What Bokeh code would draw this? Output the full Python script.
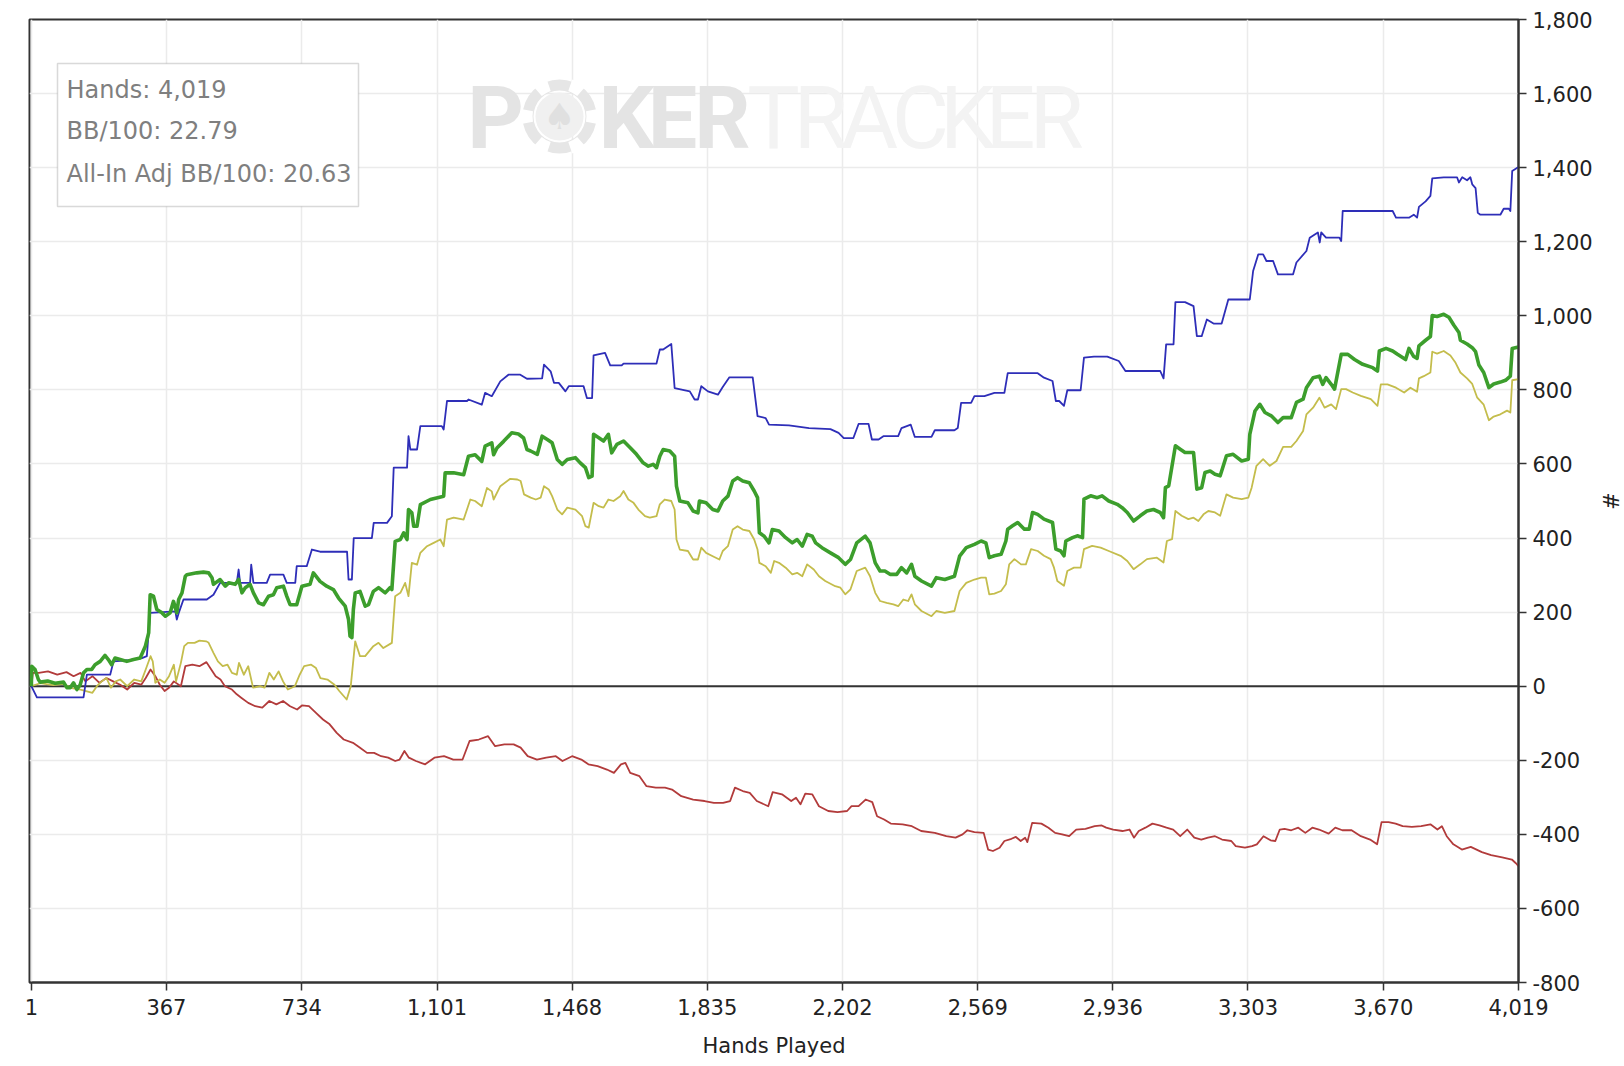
import numpy as np
from bokeh.plotting import figure
from bokeh.models import Range1d, FixedTicker, NumeralTickFormatter, Span, BoxAnnotation, Label
from bokeh.embed import file_html
from bokeh.resources import INLINE
from bokeh.core.properties import value

# ---------------- data ----------------
x_tick_labels = ["1", "367", "734", "1,101", "1,468", "1,835", "2,202", "2,569",
                 "2,936", "3,303", "3,670", "4,019"]
y_ticks = list(range(-800, 1801, 200))

stats_lines = ["Hands: 4,019", "BB/100: 22.79", "All-In Adj BB/100: 20.63"]

blue_hands = [1, 16, 142, 151, 214, 223, 260, 300, 313, 322, 390, 394, 400, 412, 475, 493, 511, 556, 561, 565,
              592, 595, 601, 637, 646, 682, 691, 714, 718, 745, 759, 781, 854, 858, 867, 872, 921, 926, 962, 975,
              980, 1016, 1020, 1025, 1043, 1052, 1110, 1115, 1124, 1178, 1182, 1218, 1227, 1245, 1268, 1290, 1322,
              1340, 1381, 1386, 1404, 1413, 1426, 1444, 1453, 1493, 1502, 1516, 1520, 1551, 1565, 1596, 1601, 1690,
              1699, 1708, 1730, 1739, 1780, 1793, 1802, 1811, 1829, 1856, 1869, 1887, 1950, 1963, 1985, 1994, 2048,
              2102, 2160, 2182, 2196, 2222, 2236, 2263, 2272, 2290, 2303, 2343, 2352, 2377, 2388, 2433, 2442, 2495,
              2504, 2513, 2540, 2549, 2576, 2603, 2630, 2639, 2720, 2737, 2760, 2769, 2778, 2791, 2800, 2836, 2845,
              2872, 2908, 2939, 2957, 3051, 3060, 3067, 3087, 3092, 3118, 3141, 3150, 3163, 3177, 3195, 3217, 3235,
              3293, 3302, 3316, 3329, 3338, 3356, 3369, 3410, 3419, 3446, 3455, 3477, 3482, 3486, 3499, 3535, 3540,
              3544, 3679, 3688, 3723, 3736, 3745, 3750, 3768, 3781, 3786, 3817, 3853, 3858, 3867, 3880, 3889, 3894,
              3903, 3909, 3916, 3970, 3979, 3993, 3997, 4002, 4019]
blue_vals = [0, -30, -30, 31, 31, 67, 70, 76, 81, 198, 202, 180, 200, 234, 234, 247, 279, 279, 315, 279,
             279, 328, 279, 279, 301, 301, 279, 279, 324, 324, 369, 363, 363, 288, 288, 400, 400, 441, 441, 459,
             590, 590, 675, 639, 639, 702, 702, 693, 770, 770, 774, 760, 792, 783, 823, 841, 841,
             830, 831, 868, 850, 819, 819, 796, 810, 810, 778, 778, 893, 900, 866, 866, 871, 871,
             909, 909, 924, 805, 796, 774, 774, 810, 796, 787, 808, 834, 834, 729, 724, 706, 704,
             697, 694, 684, 670, 670, 708, 708, 666, 666, 675, 675, 697, 706, 673, 673, 691, 691,
             697, 765, 765, 783, 783, 792, 792, 845, 845, 833, 824, 770, 770, 757, 799, 799, 887,
             890, 890, 878, 851, 851, 831, 923, 923, 1037, 1037, 1026, 945, 945, 990, 979, 979, 1044,
             1044, 1121, 1166, 1166, 1148, 1148, 1112, 1112, 1144, 1175, 1211, 1225, 1198, 1225, 1211, 1211, 1202,
             1283, 1283, 1265, 1265, 1273, 1265, 1294, 1309, 1324, 1371, 1374, 1374, 1360, 1374, 1366, 1374, 1355,
             1345, 1278, 1273, 1273, 1289, 1289, 1283, 1391, 1402]

green_hands = [1, 2, 11, 20, 25, 45, 65, 88, 97, 106, 115, 124, 133, 142, 151, 164, 173, 187, 200, 209, 218, 227,
               241, 259, 277, 295, 309, 318, 322, 331, 340, 354, 363, 376, 385, 394, 399, 408, 417, 421, 448, 466,
               480, 489, 493, 511, 525, 534, 552, 561, 570, 579, 592, 601, 615, 628, 642, 655, 664, 682, 691, 700,
               718, 732, 754, 763, 781, 799, 817, 831, 849, 858, 862, 867, 871, 876, 889, 903, 912, 925, 939, 957,
               970, 975, 984, 998, 1007, 1016, 1020, 1029, 1034, 1043, 1052, 1079, 1115, 1119, 1142, 1169, 1182,
               1200, 1218, 1227, 1245, 1250, 1259, 1277, 1299, 1317, 1331, 1340, 1350, 1368, 1381, 1395, 1408,
               1422, 1435, 1449, 1471, 1484, 1498, 1507, 1516, 1520, 1534, 1547, 1560, 1569, 1583, 1601, 1619,
               1636, 1654, 1668, 1681, 1690, 1699, 1708, 1726, 1739, 1744, 1753, 1775, 1789, 1802, 1806, 1824,
               1842, 1856, 1869, 1883, 1896, 1909, 1923, 1941, 1954, 1963, 1968, 1981, 1994, 2003, 2021, 2039,
               2057, 2070, 2084, 2097, 2111, 2120, 2137, 2160, 2182, 2200, 2214, 2231, 2254, 2267, 2281, 2294,
               2307, 2321, 2339, 2352, 2366, 2379, 2388, 2406, 2433, 2446, 2469, 2495, 2509, 2527, 2549, 2567,
               2580, 2589, 2603, 2621, 2634, 2639, 2652, 2666, 2684, 2697, 2706, 2720, 2737, 2760, 2769, 2782,
               2791, 2796, 2814, 2827, 2841, 2845, 2863, 2881, 2894, 2912, 2935, 2948, 2962, 2979, 2997, 3015,
               3033, 3051, 3060, 3065, 3074, 3092, 3105, 3118, 3141, 3150, 3163, 3172, 3186, 3199, 3213, 3230,
               3248, 3271, 3289, 3293, 3307, 3320, 3334, 3351, 3369, 3383, 3405, 3419, 3437, 3446, 3464, 3481,
               3490, 3499, 3513, 3522, 3540, 3558, 3576, 3598, 3625, 3638, 3643, 3661, 3679, 3692, 3714, 3723,
               3736, 3745, 3750, 3768, 3781, 3786, 3799, 3817, 3831, 3844, 3858, 3862, 3880, 3894, 3903, 3912,
               3925, 3939, 3952, 3970, 3984, 3997, 4002, 4019]
green_vals = [0, 54, 45, 18, 11, 14, 8, 11, -4, -4, 9, -9, 4, 36, 45, 45, 58, 67, 83, 72, 58, 76,
              72, 67, 72, 76, 108, 144, 247, 243, 207, 198, 189, 198, 229, 198, 234, 252, 297, 301, 306, 308,
              306, 293, 275, 288, 270, 279, 275, 288, 252, 266, 275, 252, 225, 220, 243, 247, 266, 270, 243, 220,
              220, 270, 275, 306, 283, 270, 261, 238, 216, 180, 135, 131, 207, 252, 256, 216, 220, 256, 266, 252,
              266, 261, 391, 396, 414, 396, 477, 468, 432, 432, 490, 504, 513, 576, 576, 571, 621,
              625, 607, 648, 657, 625, 643, 661, 684, 681, 670, 639, 635, 626, 675, 666, 657,
              612, 599, 612, 617, 603, 590, 563, 567, 680, 671, 662, 680, 630, 653, 662, 644,
              626, 603, 594, 599, 590, 621, 639, 635, 621, 540, 500, 495, 473, 468, 500, 495,
              477, 473, 500, 513, 554, 563, 554, 549, 527, 509, 414, 405, 387, 423, 419, 401,
              387, 396, 378, 410, 405, 387, 374, 360, 347, 329, 342, 387, 405, 387, 333, 311,
              311, 302, 302, 320, 306, 329, 297, 284, 270, 293, 288, 297, 351, 374, 383, 392,
              387, 347, 352, 356, 392, 424, 433, 442, 424, 424, 469, 464, 451, 442, 370, 365,
              352, 392, 401, 406, 401, 505, 514, 509, 514, 500, 491, 482, 469, 446, 460, 473,
              477, 469, 455, 536, 541, 649, 640, 631, 631, 532, 536, 577, 581, 572, 568, 622,
              626, 608, 613, 680, 743, 761, 739, 730, 712, 725, 725, 766, 775, 806, 833, 837,
              815, 833, 815, 802, 896, 896, 882, 869, 860, 851, 905, 912, 905, 896, 882, 912,
              890, 885, 919, 934, 944, 1001, 998, 1004, 996, 975, 955, 934, 924, 914, 903, 867,
              847, 806, 816, 821, 826, 837, 912, 916]

yellow_hands = [1, 25, 60, 88, 110, 134, 166, 178, 191, 204, 216, 229, 241, 260, 279, 298, 310, 323, 329, 336,
                348, 361, 373, 386, 392, 405, 414, 424, 442, 455, 474, 480, 493, 505, 518, 531, 543, 556, 562,
                575, 587, 600, 619, 631, 644, 656, 669, 681, 694, 713, 726, 738, 757, 770, 782, 801, 820, 833,
                853, 864, 876, 889, 903, 925, 939, 952, 975, 984, 998, 1011, 1020, 1029, 1043, 1052, 1070, 1088,
                1106, 1115, 1124, 1142, 1169, 1187, 1200, 1218, 1232, 1245, 1250, 1268, 1295, 1314, 1323, 1332,
                1350, 1364, 1377, 1386, 1399, 1408, 1422, 1435, 1449, 1471, 1489, 1498, 1507, 1520, 1534, 1547,
                1560, 1574, 1592, 1601, 1614, 1628, 1641, 1659, 1672, 1690, 1699, 1712, 1730, 1739, 1744, 1753,
                1775, 1789, 1802, 1811, 1824, 1842, 1860, 1869, 1883, 1896, 1909, 1923, 1941, 1954, 1963, 1968,
                1985, 1999, 2008, 2021, 2039, 2057, 2070, 2084, 2097, 2115, 2129, 2146, 2173, 2187, 2200, 2214,
                2231, 2254, 2267, 2281, 2294, 2312, 2330, 2343, 2357, 2370, 2379, 2388, 2406, 2433, 2446, 2469,
                2495, 2509, 2527, 2549, 2567, 2580, 2589, 2603, 2621, 2634, 2643, 2657, 2675, 2688, 2702, 2720,
                2737, 2755, 2764, 2773, 2791, 2800, 2818, 2836, 2845, 2867, 2890, 2912, 2944, 2962, 2979, 2997,
                3015, 3042, 3060, 3069, 3083, 3092, 3109, 3127, 3141, 3154, 3168, 3181, 3199, 3213, 3230, 3248,
                3271, 3289, 3298, 3311, 3329, 3347, 3365, 3383, 3405, 3419, 3437, 3446, 3464, 3481, 3495, 3513,
                3526, 3540, 3553, 3571, 3593, 3620, 3638, 3647, 3665, 3688, 3710, 3727, 3745, 3750, 3763, 3781,
                3786, 3799, 3817, 3835, 3849, 3862, 3880, 3894, 3907, 3925, 3939, 3952, 3970, 3988, 3997, 4002,
                4019]
yellow_vals = [0, 8, 3, 6, -5, -9, -18, 0, 13, 22, -4, 13, 18, 0, 18, 13, 45, 81, 67, 9,
               18, 9, 27, 58, 13, 63, 108, 117, 117, 123, 121, 117, 90, 67, 54, 58, 36, 31, 63,
               31, 54, -4, 0, -4, 36, 18, 40, 13, -9, 0, 31, 54, 58, 49, 22, 18, 4, -13,
               -36, 0, 121, 81, 81, 108, 117, 103, 117, 243, 252, 279, 243, 333, 328, 360, 378, 387,
               396, 378, 450, 455, 450, 504, 500, 486, 535, 526, 504, 540, 560, 558, 554, 518,
               509, 504, 509, 540, 531, 513, 477, 464, 482, 477, 459, 432, 428, 495, 486, 482,
               504, 500, 513, 527, 504, 495, 477, 459, 455, 459, 491, 504, 500, 477, 396, 369,
               365, 342, 342, 374, 360, 351, 342, 365, 378, 423, 432, 423, 419, 396, 369, 333,
               324, 306, 338, 333, 320, 302, 306, 297, 329, 315, 297, 284, 270, 266, 248, 261,
               311, 320, 297, 252, 230, 225, 221, 216, 234, 230, 248, 221, 203, 189, 203, 198,
               203, 257, 279, 288, 293, 293, 248, 250, 257, 275, 329, 343, 329, 329, 370, 365,
               352, 343, 320, 284, 271, 311, 320, 320, 370, 379, 374, 365, 352, 338, 316, 329,
               343, 347, 334, 392, 397, 473, 460, 451, 455, 446, 464, 473, 469, 460, 518, 509,
               505, 509, 536, 595, 613, 595, 608, 646, 646, 662, 689, 734, 752, 779, 752, 761,
               748, 802, 802, 793, 784, 775, 757, 815, 815, 806, 793, 806, 795, 831, 837, 847,
               903, 898, 905, 893, 873, 847, 831, 816, 780, 760, 718, 728, 734, 744, 739, 826,
               829]

red_hands = [1, 5, 21, 46, 71, 96, 115, 134, 147, 166, 185, 204, 222, 241, 260, 279, 298, 310, 323, 336, 348,
             361, 373, 386, 405, 417, 436, 455, 474, 487, 499, 512, 524, 543, 556, 568, 587, 606, 625, 644, 663,
             681, 700, 719, 732, 751, 770, 789, 807, 826, 845, 870, 889, 908, 927, 946, 965, 984, 996, 1009,
             1021, 1040, 1065, 1090, 1116, 1141, 1166, 1185, 1210, 1235, 1254, 1279, 1304, 1323, 1342, 1367,
             1392, 1418, 1436, 1462, 1487, 1506, 1531, 1556, 1575, 1594, 1606, 1619, 1644, 1663, 1688, 1713,
             1732, 1757, 1789, 1820, 1845, 1870, 1889, 1902, 1923, 1942, 1961, 1992, 2004, 2029, 2054, 2067,
             2079, 2092, 2111, 2129, 2154, 2179, 2205, 2217, 2236, 2255, 2273, 2286, 2305, 2323, 2355, 2380,
             2405, 2442, 2473, 2498, 2517, 2530, 2549, 2574, 2586, 2599, 2617, 2630, 2649, 2661, 2674, 2686,
             2692, 2705, 2730, 2749, 2767, 2786, 2805, 2824, 2849, 2874, 2893, 2905, 2924, 2949, 2968, 2980,
             2993, 3011, 3030, 3049, 3068, 3086, 3105, 3124, 3143, 3162, 3180, 3199, 3218, 3243, 3255, 3280,
             3299, 3312, 3330, 3349, 3362, 3374, 3387, 3405, 3424, 3443, 3462, 3480, 3506, 3524, 3543, 3568,
             3593, 3618, 3637, 3649, 3668, 3687, 3706, 3731, 3756, 3781, 3800, 3812, 3825, 3843, 3866, 3890,
             3920, 3945, 3975, 4001, 4012, 4019]
red_vals = [0, 36, 36, 40, 31, 38, 27, 36, 13, 27, 9, 22, 13, 4, -9, 9, 4, 22, 45, 27, 4,
            -13, -4, 13, 0, 54, 58, 54, 65, 45, 27, 18, 0, -9, -22, -31, -45, -54, -58, -40, -49,
            -40, -54, -63, -52, -54, -72, -90, -103, -126, -144, -153, -166, -180, -180, -189, -193, -202, -198, -175,
            -193, -202, -211, -193, -189, -198, -198, -148, -144, -135, -162, -157, -157, -166, -189, -198,
            -193, -189, -202, -189, -198, -211, -216, -225, -234, -211, -207, -234, -243, -270, -274, -274,
            -279, -297, -306, -310, -315, -315, -310, -274, -283, -288, -310, -324, -286, -292, -310, -301,
            -319, -290, -292, -324, -337, -340, -337, -324, -324, -306, -313, -351, -360, -371, -373, -378,
            -391, -396, -405, -409, -400, -389, -394, -396, -441, -445, -436, -418, -412, -407, -418, -409,
            -421, -369, -371, -382, -396, -400, -405, -387, -385, -378, -376, -382, -387, -391, -387, -409,
            -391, -382, -371, -376, -382, -387, -405, -387, -409, -414, -409, -405, -414, -418, -432, -436,
            -432, -427, -405, -416, -418, -387, -385, -389, -382, -396, -382, -387, -398, -382, -389, -389,
            -405, -414, -427, -367, -367, -371, -378, -380, -378, -373, -387, -378, -405, -427, -441, -434,
            -448, -456, -462, -468, -478, -486]

# ---------------- figure ----------------
X_START, X_END = -4, 4019
Y_START, Y_END = -800, 1800
FRAME_L, FRAME_T, FRAME_W, FRAME_H = 29, 19, 1489, 963


def sx(px):
    return X_START + (px - FRAME_L) / FRAME_W * (X_END - X_START)


def sy(py):
    return Y_END - (py - FRAME_T) / FRAME_H * (Y_END - Y_START)


p = figure(width=1624, height=1066, output_backend="svg", toolbar_location=None,
           x_range=Range1d(X_START, X_END), y_range=Range1d(Y_START, Y_END),
           y_axis_location="right", min_border_left=29, min_border_right=106,
           min_border_top=19, min_border_bottom=84)
p.background_fill_color = "white"
p.border_fill_color = "white"
p.outline_line_color = "#333333"
p.outline_line_width = 2

x_ticks = [int(round(1 + k * (4019 - 1) / 11)) for k in range(12)]
p.xaxis.ticker = FixedTicker(ticks=x_ticks)
p.xaxis.major_label_overrides = {t: lab for t, lab in zip(x_ticks, x_tick_labels)}
p.yaxis.ticker = FixedTicker(ticks=y_ticks)
p.yaxis.formatter = NumeralTickFormatter(format="0,0")

for ax in (p.xaxis[0], p.yaxis[0]):
    ax.axis_line_color = "#333333"
    ax.axis_line_width = 2
    ax.major_tick_line_color = "#333333"
    ax.major_tick_line_width = 1.5
    ax.major_tick_out = 8
    ax.major_tick_in = 0
    ax.minor_tick_line_color = None
    ax.major_label_text_font = "DejaVu Sans"
    ax.major_label_text_font_size = "21px"
    ax.major_label_text_color = "#222222"
    ax.axis_label_text_font = "DejaVu Sans"
    ax.axis_label_text_font_size = "21px"
    ax.axis_label_text_font_style = "normal"
    ax.axis_label_text_color = "#222222"

p.xaxis.axis_label = "Hands Played"
p.xaxis.major_label_standoff = 8
p.xaxis.axis_label_standoff = 16
p.yaxis.axis_label = "#"
p.yaxis.major_label_standoff = 6
p.yaxis.axis_label_standoff = 2

p.xgrid.grid_line_color = "#ebebeb"
p.xgrid.grid_line_width = 1.5
p.ygrid.grid_line_color = "#ebebeb"
p.ygrid.grid_line_width = 1.5

# ---------------- watermark ----------------
base_y = sy(117)
poker_letters = ["P", "K", "E", "R"]
poker_px = [495, 626, 672, 722]
p.text(x=[sx(v) for v in poker_px], y=[base_y] * 4, text=poker_letters,
       text_font=value("Roboto"), text_font_style="bold", text_font_size="88px",
       text_color="#e4e4e4", text_align="center", text_baseline="alphabetic")
tracker_letters = list("TRACKER")
tracker_px = [773, 820, 869, 920, 967, 1010, 1056]
p.text(x=[sx(v) for v in tracker_px], y=[base_y] * 7, text=tracker_letters,
       text_font=value("Roboto"), text_font_size="88px",
       text_color="#f3f3f3", text_align="center", text_baseline="alphabetic")
cx, cy = sx(559), sy(116)
p.annulus(x=[cx], y=[cy], inner_radius=26, outer_radius=37,
          inner_radius_units="screen", outer_radius_units="screen",
          fill_color="#e6e6e6", line_color=None)
notch_deg = [0, 60, 120, 180, 240, 300]
p.annular_wedge(x=[cx] * 6, y=[cy] * 6, inner_radius=27, outer_radius=39,
                inner_radius_units="screen", outer_radius_units="screen",
                start_angle=[np.deg2rad(d - 11) for d in notch_deg],
                end_angle=[np.deg2rad(d + 11) for d in notch_deg],
                fill_color="white", line_color=None)
p.circle(x=[cx], y=[cy], radius=24, radius_units="screen", fill_color="#f0f0f0", line_color=None)
p.text(x=[cx], y=[cy], text=["\u2660"], text_font=value("DejaVu Sans"), text_font_size="36px",
       text_color="#e0e0e0", text_align="center", text_baseline="middle")

# ---------------- zero line ----------------
zero = Span(location=0, dimension="width", line_color="#333333", line_width=2, level="underlay")
p.add_layout(zero)

# ---------------- series ----------------
p.line(red_hands, red_vals, line_color="#b23b3b", line_width=1.8, line_join="round")
p.line(yellow_hands, yellow_vals, line_color="#c4bd4c", line_width=1.8, line_join="round")
p.line(blue_hands, blue_vals, line_color="#2e2eb8", line_width=1.8, line_join="round")
p.line(green_hands, green_vals, line_color="#3c9e2c", line_width=3.6, line_join="round")

# ---------------- stats box ----------------
box = BoxAnnotation(left=sx(57), right=sx(358), top=sy(63), bottom=sy(206),
                    fill_color="white", fill_alpha=1.0, line_color="#808080", line_width=1.5)
p.add_layout(box)
for txt, py in zip(stats_lines, [89, 130, 173]):
    p.add_layout(Label(x=sx(66), y=sy(py), text=txt, text_baseline="middle",
                       text_font="DejaVu Sans", text_font_size="24px", text_color="#7f7f7f"))

open("out.html", "w").write(file_html(p, INLINE))
